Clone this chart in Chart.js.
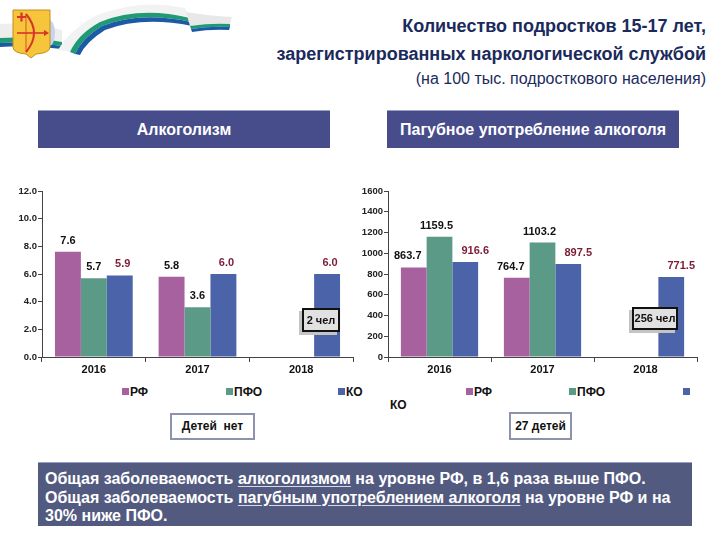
<!DOCTYPE html>
<html>
<head>
<meta charset="utf-8">
<script src="https://cdn.jsdelivr.net/npm/chart.js@4/dist/chart.umd.min.js"></script>
<style>
  body { margin: 0; width: 720px; height: 540px; background: #fff; position: relative; overflow: hidden;
         font-family: "Liberation Sans", Arial, sans-serif; }
  .abs { position: absolute; }
  .title { right: 14px; text-align: right; color: #1b2a5c; white-space: nowrap; }
  .hbox { background: #474c8b; color: #fff; font-weight: bold; font-size: 16px; text-align: center;
          line-height: 37px; border-top: 1px solid #9aa0c8; white-space: nowrap; }
  .note { background: #fff; border: 2px solid #8e93ad; font-weight: bold; font-size: 12px; text-align: center; color: #111; }
  .tag { background: #e1e1e1; border: 2px solid #111; font-weight: bold; font-size: 11px; text-align: center;
         box-shadow: -3px 3px 0 #c4c4c4; color: #111; }
  .leg { font-weight: bold; font-size: 12px; color: #111; white-space: nowrap; }
  .leg i { display: inline-block; width: 7px; height: 7px; margin-right: 1px; vertical-align: 1px; }
  .summary { background: #535a80; color: #fff; font-weight: bold; font-size: 16px; line-height: 18.5px;
             padding: 7px 7px; box-sizing: border-box; border-top: 1px solid #9aa0c8; white-space: nowrap; }
  .summary u { text-decoration-color: #d8d8e8; text-underline-offset: 2px; }
</style>
</head>
<body>

<svg class="abs" style="left:0;top:0" width="240" height="70" viewBox="0 0 240 70">
  <!-- ribbon -->
  <path d="M0 24 Q30 22 62 30 L62 42 Q30 36 0 38 Z" fill="#eeeeee"/>
  <path d="M0 38 Q30 36 62 42 L62 46 Q30 41 0 43 Z" fill="#1f9a72"/>
  <path d="M0 43 Q30 41 62 46 L62 49 Q30 45 0 47 Z" fill="#1d5aa6"/>
  <path d="M58 50 Q70 30 95 16 Q140 -2 185 8 L190 18 Q140 6 100 22 Q78 34 70 52 Z" fill="#f2f2f2"/>
  <path d="M70 52 Q78 34 100 22 Q140 6 190 18 L191 22 Q140 11 102 26 Q82 38 75 54 Z" fill="#1f9a72"/>
  <path d="M75 54 Q82 38 102 26 Q140 11 191 22 L192 26 Q142 16 105 30 Q86 42 80 55 Z" fill="#1d5aa6"/>
  <path d="M186 12 Q210 16 232 17 L230 24 Q210 23 190 26 Z" fill="#e8e8e8"/>
  <path d="M190 26 Q210 23 230 24 L230 27 Q210 26 191 29 Z" fill="#1f9a72"/>
  <path d="M191 29 Q210 26 230 27 L229 30 Q210 29 192 32 Z" fill="#1d5aa6"/>
  <!-- coat of arms -->
  <ellipse cx="49" cy="33" rx="6" ry="13" fill="#c7d4ee"/>
  <path d="M13 10 H50 V47 Q50 53 36 54 L31 58 L26 54 Q13 53 13 47 Z" fill="#f6c53c" stroke="#c08f1e" stroke-width="1"/>
  <path d="M17 17 H26 M21.5 12.5 V21.5" stroke="#d8342a" stroke-width="2.2"/>
  <path d="M26 14 Q42 33 26 52" fill="none" stroke="#d8342a" stroke-width="2"/>
  <path d="M26 14 V52" stroke="#d8342a" stroke-width="0.8"/>
  <path d="M17 33 H47" stroke="#d8342a" stroke-width="1.6"/>
  <path d="M44 30 L49 33 L44 36 Z" fill="#d8342a"/>
</svg>

<div class="abs title" style="top:16px;font-weight:bold;font-size:18px;">Количество подростков 15-17 лет,</div>
<div class="abs title" style="top:44px;font-weight:bold;font-size:18px;">зарегистрированных наркологической службой</div>
<div class="abs title" style="top:70px;font-size:16px;">(на 100 тыс. подросткового населения)</div>

<div class="abs hbox" style="left:38px;top:110px;width:292px;height:37px;">Алкоголизм</div>
<div class="abs hbox" style="left:387px;top:110px;width:292px;height:37px;">Пагубное употребление алкоголя</div>

<canvas id="alco" class="abs" style="left:0;top:180px" width="360" height="200"></canvas>
<canvas id="harm" class="abs" style="left:350px;top:180px" width="370" height="200"></canvas>

<div class="abs tag" style="left:302px;top:308px;width:34px;height:20px;line-height:20px;">2 чел</div>
<div class="abs tag" style="left:632px;top:307px;width:42px;height:19px;line-height:19px;">256 чел</div>

<div class="abs note" style="left:170px;top:413px;width:81px;height:23px;line-height:23px;">Детей&nbsp; нет</div>
<div class="abs note" style="left:509px;top:412px;width:59px;height:24px;line-height:24px;">27 детей</div>

<div class="abs summary" style="left:38px;top:462px;width:654px;height:64px;">
  Общая заболеваемость <u>алкоголизмом</u> на уровне РФ, в 1,6 раза выше ПФО.<br>
  Общая заболеваемость <u>пагубным употреблением алкоголя</u> на уровне РФ и на<br>
  30% ниже ПФО.
</div>

<script>
// categories and series
const years = ['2016', '2017', '2018'];
const seriesNames = ['РФ', 'ПФО', 'КО'];
const seriesColors = ['#a6619e', '#5b9a86', '#4b63a8'];

// Алкоголизм
const alcoRF = [7.6, 5.8, null];
const alcoPFO = [5.7, 3.6, null];
const alcoKO = [5.9, 6.0, 6.0];

// Пагубное употребление алкоголя
const harmRF = [863.7, 764.7, null];
const harmPFO = [1159.5, 1103.2, null];
const harmKO = [916.6, 897.5, 771.5];

const alcoTicks = { min: 0, max: 12, step: 2 };
const harmTicks = { min: 0, max: 1600, step: 200 };

const labelColors = ['#111111', '#111111', '#7b1c35'];

// draws the value above every bar
const barLabels = {
  id: 'barLabels',
  afterDatasetsDraw(chart, args, opts) {
    const ctx = chart.ctx;
    ctx.save();
    ctx.font = 'bold 11px "Liberation Sans", Arial, sans-serif';
    ctx.textAlign = 'center';
    ctx.textBaseline = 'middle';
    chart.data.datasets.forEach((ds, i) => {
      const meta = chart.getDatasetMeta(i);
      meta.data.forEach((bar, j) => {
        const v = ds.data[j];
        if (v === null) return;
        ctx.fillStyle = labelColors[i];
        ctx.fillText(v.toFixed(1), bar.x + (opts.dx ? opts.dx[i] : 0), bar.y - 11);
      });
    });
    ctx.restore();
  }
};

function makeChart(id, values, tk, yWidth, padRight, yFormat, dx) {
  const ctx = document.getElementById(id).getContext('2d');
  return new Chart(ctx, {
    type: 'bar',
    data: {
      labels: years,
      datasets: values.map((d, i) => ({
        label: seriesNames[i],
        data: d,
        backgroundColor: seriesColors[i],
        categoryPercentage: 0.75,
        barPercentage: 1.0
      }))
    },
    options: {
      responsive: false,
      animation: false,
      devicePixelRatio: 1,
      layout: { padding: { top: 11, right: padRight, bottom: 0, left: 0 } },
      plugins: {
        legend: { display: false },
        tooltip: { enabled: false },
        barLabels: { dx: dx }
      },
      scales: {
        x: {
          offset: true,
          grid: { display: true, drawOnChartArea: false, offset: true, tickLength: 5, color: '#444' },
          border: { display: true, color: '#444' },
          ticks: { font: { size: 11, weight: 'bold', family: '"Liberation Sans", Arial' }, color: '#111', padding: 1 },
          afterFit(s) { s.height = 23; }
        },
        y: {
          min: tk.min,
          max: tk.max,
          grid: { display: true, drawOnChartArea: false, tickLength: 4, color: '#444' },
          border: { display: true, color: '#444' },
          ticks: {
            stepSize: tk.step,
            font: { size: 9.5, weight: 'bold', family: '"Liberation Sans", Arial' },
            color: '#222',
            padding: 1,
            callback: yFormat
          },
          afterFit(s) { s.width = yWidth; }
        }
      }
    },
    plugins: [barLabels]
  });
}

makeChart('alco', [alcoRF, alcoPFO, alcoKO], alcoTicks, 42, 7, v => v.toFixed(1), [0, 0, 3]);
makeChart('harm', [harmRF, harmPFO, harmKO], harmTicks, 38, 23, v => v, [-6, -3, 10]);

// html legends built from the series
function legendItem(i, x, y, withText) {
  const el = document.createElement('div');
  el.className = 'abs leg';
  el.style.left = x + 'px';
  el.style.top = y + 'px';
  el.innerHTML = '<i style="background:' + seriesColors[i] + '"></i>' + (withText ? seriesNames[i] : '');
  document.body.appendChild(el);
}
legendItem(0, 122, 385, true);
legendItem(1, 226, 385, true);
legendItem(2, 338, 385, true);
legendItem(0, 466, 385, true);
legendItem(1, 569, 385, true);
legendItem(2, 683, 385, false);
const ko = document.createElement('div');
ko.className = 'abs leg';
ko.style.left = '390px';
ko.style.top = '398px';
ko.textContent = seriesNames[2];
document.body.appendChild(ko);
</script>
</body>
</html>
